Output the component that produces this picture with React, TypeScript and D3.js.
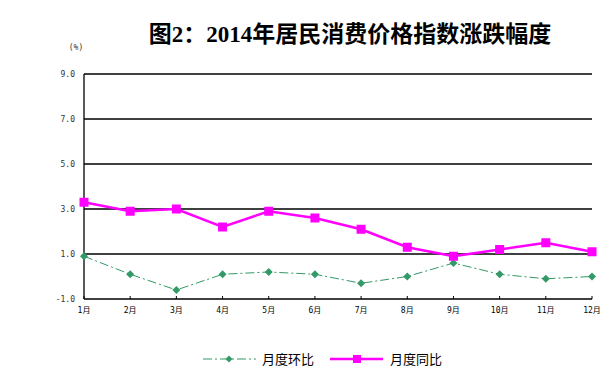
import React from "react";
import * as d3 from "d3";

const months = ["1月", "2月", "3月", "4月", "5月", "6月", "7月", "8月", "9月", "10月", "11月", "12月"];
const momValues = [0.9, 0.1, -0.6, 0.1, 0.2, 0.1, -0.3, 0.0, 0.6, 0.1, -0.1, 0.0];
const yoyValues = [3.3, 2.9, 3.0, 2.2, 2.9, 2.6, 2.1, 1.3, 0.9, 1.2, 1.5, 1.1];
const yTicks = [-1, 1, 3, 5, 7, 9];
const title = "图2：2014年居民消费价格指数涨跌幅度";
const unitLabel = "(%)";
const seriesNames = ["月度环比", "月度同比"];

const W = 614;
const H = 382;
const left = 84;
const right = 592;
const top = 74;
const bottom = 299;

const GREEN = "#339966";
const MAGENTA = "#FF00FF";

export default function App() {
  const x = d3.scalePoint<string>().domain(months).range([left, right]);
  const y = d3.scaleLinear().domain([-1, 9]).range([bottom, top]);
  const line = d3
    .line<number>()
    .x((_, i) => x(months[i]) as number)
    .y((d) => y(d));

  const diamond = (cx: number, cy: number, r: number) =>
    `M${cx},${cy - r}L${cx + r},${cy}L${cx},${cy + r}L${cx - r},${cy}Z`;

  const smallFont = "'DejaVu Sans Mono', 'Noto Sans CJK SC', monospace";

  return (
    <svg width={W} height={H} style={{ position: "absolute", left: 0, top: 0, background: "#fff" }}>
      <rect width={W} height={H} fill="#fff" />
      <text
        x={350}
        y={42}
        textAnchor="middle"
        fontFamily="'Liberation Serif', 'Noto Sans CJK SC', serif"
        fontWeight="600"
        fontSize={23}
        fill="#000"
      >
        {title}
      </text>
      <text x={76} y={50} textAnchor="middle" fontFamily={smallFont} fontSize={8} fill="#333">
        {unitLabel}
      </text>
      {/* gridlines */}
      {yTicks.map((t) => (
        <line key={t} x1={left} x2={right} y1={y(t)} y2={y(t)} stroke="#000" strokeWidth={1.3} />
      ))}
      <line x1={left} x2={left} y1={top} y2={bottom} stroke="#000" strokeWidth={1.3} />
      {/* y labels */}
      {yTicks.map((t) => (
        <text
          key={"l" + t}
          x={75}
          y={y(t) + 3}
          textAnchor="end"
          fontFamily={smallFont}
          fontSize={8}
          fill="#333"
        >
          {t.toFixed(1)}
        </text>
      ))}
      {/* x ticks and labels */}
      {months.map((m) => (
        <g key={m}>
          <line x1={x(m)} x2={x(m)} y1={bottom - 3} y2={bottom} stroke="#000" strokeWidth={1} />
          <text
            x={x(m)}
            y={313}
            textAnchor="middle"
            fontFamily={smallFont}
            fontSize={8}
            fill="#000"
          >
            {m}
          </text>
        </g>
      ))}
      {/* month-on-month series */}
      <path
        d={line(momValues) || ""}
        fill="none"
        stroke={GREEN}
        strokeWidth={1}
        strokeDasharray="9,3,2,3"
      />
      {momValues.map((v, i) => (
        <path key={"m" + i} d={diamond(x(months[i]) as number, y(v), 4)} fill={GREEN} />
      ))}
      {/* year-on-year series */}
      <path d={line(yoyValues) || ""} fill="none" stroke={MAGENTA} strokeWidth={2.5} />
      {yoyValues.map((v, i) => (
        <rect
          key={"y" + i}
          x={(x(months[i]) as number) - 4.5}
          y={y(v) - 4.5}
          width={9}
          height={9}
          fill={MAGENTA}
        />
      ))}
      {/* legend */}
      <line x1={203} x2={256} y1={359} y2={359} stroke={GREEN} strokeWidth={1} strokeDasharray="9,3,2,3" />
      <path d={diamond(229, 359, 3.5)} fill={GREEN} />
      <text x={262} y={364} fontFamily="'Noto Sans CJK SC', sans-serif" fontSize={13} fill="#000">
        {seriesNames[0]}
      </text>
      <line x1={330} x2={383} y1={359} y2={359} stroke={MAGENTA} strokeWidth={2.5} />
      <rect x={353} y={355} width={8} height={8} fill={MAGENTA} />
      <text x={390} y={364} fontFamily="'Noto Sans CJK SC', sans-serif" fontSize={13} fill="#000">
        {seriesNames[1]}
      </text>
    </svg>
  );
}
